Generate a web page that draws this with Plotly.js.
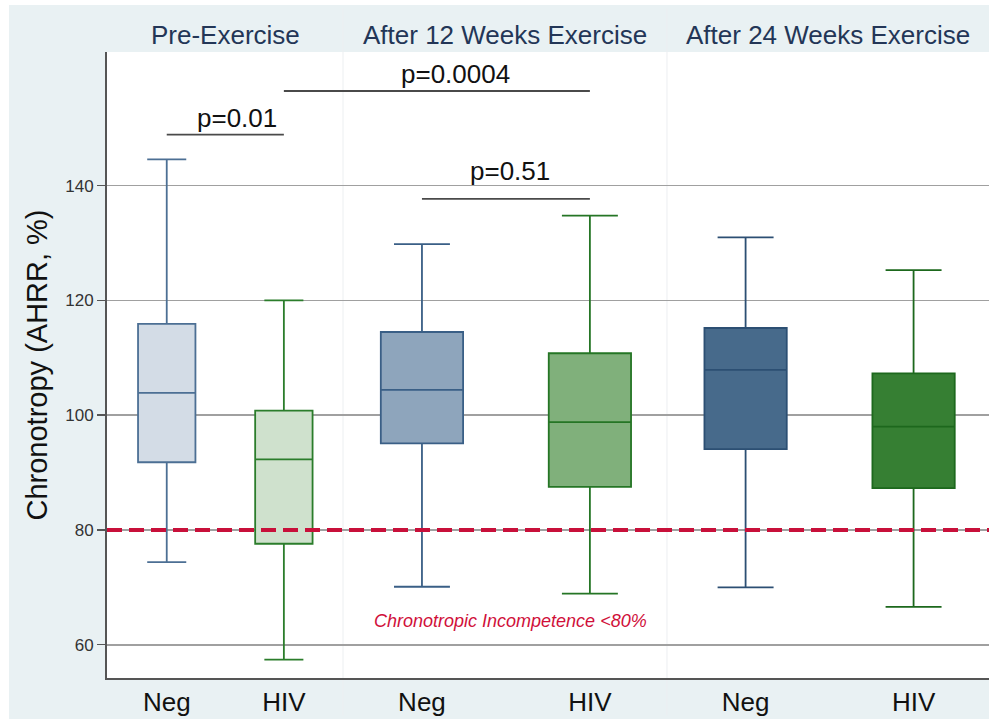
<!DOCTYPE html>
<html>
<head>
<meta charset="utf-8">
<script src="https://cdn.plot.ly/plotly-3.0.1.min.js"></script>
<style>html,body{margin:0;padding:0;background:#fff;}#chart{width:989px;height:719px;}</style>
</head>
<body>
<div id="chart"></div>
<script>
// ---- data ----
const groups = ["Neg", "HIV"];
const panelTitles = ["Pre-Exercise", "After 12 Weeks Exercise", "After 24 Weeks Exercise"];

const preLower  = [74.4, 57.4];
const preQ1     = [91.8, 77.6];
const preMedian = [103.9, 92.3];
const preQ3     = [115.9, 100.8];
const preUpper  = [144.6, 120.0];

const wk12Lower  = [70.1, 68.9];
const wk12Q1     = [95.1, 87.5];
const wk12Median = [104.4, 98.8];
const wk12Q3     = [114.5, 110.8];
const wk12Upper  = [129.8, 134.8];

const wk24Lower  = [70.0, 66.6];
const wk24Q1     = [94.1, 87.3];
const wk24Median = [107.9, 98.0];
const wk24Q3     = [115.2, 107.3];
const wk24Upper  = [131.0, 125.3];

const yTicks = [60, 80, 100, 120, 140];
const threshold = 80;
const thresholdLabel = "Chronotropic Incompetence <80%";

const pLabels = ["p=0.01", "p=0.0004", "p=0.51"];
// bracket endpoints: [panel index, group index]
const pFrom = [[0, 0], [0, 1], [1, 0]];
const pTo   = [[0, 1], [1, 1], [1, 1]];
const pLevel = [148.9, 156.5, 137.7];

// ---- styling / layout ----
const fills = [["#d3dce6", "#cfe1cd"], ["#8ea5bc", "#80b07b"], ["#476a8b", "#367f33"]];
const lines = [["#4c6f94", "#2b7d2b"], ["#3a5f86", "#257525"], ["#2c4f73", "#1d681d"]];
const domains = [[0, 0.2676], [0.2676, 0.6349], [0.6349, 1]];
const ranges = [[-0.51, 1.505], [-0.47, 1.459], [-0.468, 1.449]];
const axNames = ["x", "x2", "x3"];
const FONT = "Liberation Sans, Arial, sans-serif";

const panels = [
  [preLower, preQ1, preMedian, preQ3, preUpper],
  [wk12Lower, wk12Q1, wk12Median, wk12Q3, wk12Upper],
  [wk24Lower, wk24Q1, wk24Median, wk24Q3, wk24Upper]
];

const traces = [];
panels.forEach((p, pi) => {
  groups.forEach((g, gi) => {
    traces.push({
      type: "box",
      x: [g],
      lowerfence: [p[0][gi]],
      q1: [p[1][gi]],
      median: [p[2][gi]],
      q3: [p[3][gi]],
      upperfence: [p[4][gi]],
      xaxis: axNames[pi],
      yaxis: "y",
      width: 0.49,
      whiskerwidth: 0.68,
      fillcolor: fills[pi][gi],
      line: {color: lines[pi][gi], width: 1.8},
      hoverinfo: "skip",
      showlegend: false
    });
  });
});

function toPaper(pi, gi) {
  const d = domains[pi], r = ranges[pi];
  return d[0] + (gi - r[0]) / (r[1] - r[0]) * (d[1] - d[0]);
}

const shapes = [];
const annotations = [];

// panel separators
[domains[0][1], domains[1][1]].forEach(xv => {
  shapes.push({type: "line", xref: "paper", yref: "paper", x0: xv, x1: xv, y0: -0.06, y1: 1.07,
    line: {color: "#eceff1", width: 1}, layer: "below"});
});

// white outer strips
shapes.push({type: "rect", xref: "paper", yref: "paper", x0: -0.2, x1: -0.1111, y0: -0.2, y1: 1.2,
  fillcolor: "#ffffff", line: {width: 0}, layer: "below"});
shapes.push({type: "rect", xref: "paper", yref: "paper", x0: -0.2, x1: 1.1, y0: 1.075, y1: 1.2,
  fillcolor: "#ffffff", line: {width: 0}, layer: "below"});

// threshold line
shapes.push({type: "line", xref: "paper", yref: "y", x0: 0, x1: 1, y0: threshold, y1: threshold,
  line: {color: "#c8103a", width: 4, dash: "15px,7px"}, layer: "above"});

// p-value brackets
const pShift = [12, 19, 4];
pLabels.forEach((lab, i) => {
  const xa = toPaper(pFrom[i][0], pFrom[i][1]);
  const xb = toPaper(pTo[i][0], pTo[i][1]);
  shapes.push({type: "line", xref: "paper", yref: "y", x0: xa, x1: xb, y0: pLevel[i], y1: pLevel[i],
    line: {color: "#4a4a4a", width: 1.8}});
  annotations.push({text: lab, xref: "paper", yref: "y", x: (xa + xb) / 2, y: pLevel[i],
    xanchor: "center", yanchor: "bottom", xshift: pShift[i], yshift: i === 2 ? 11 : 0, showarrow: false,
    font: {family: FONT, size: 26, color: "#111"}});
});

// panel headers
panelTitles.forEach((t, i) => {
  annotations.push({text: t, xref: axNames[i] + " domain", yref: "paper", x: 0.5, y: 1,
    xanchor: "center", yanchor: "bottom", yshift: 0, showarrow: false,
    font: {family: FONT, size: 26, color: "#233657"}});
});

// threshold label
annotations.push({text: "<i>" + thresholdLabel + "</i>", xref: "x2", yref: "y", x: 0.53, y: 64.1,
  xanchor: "center", yanchor: "middle", showarrow: false,
  font: {family: FONT, size: 18, color: "#d0103a"}});

const layout = {
  width: 989, height: 719,
  margin: {l: 107, r: 0, t: 52, b: 41},
  paper_bgcolor: "#e9f1f3",
  plot_bgcolor: "#ffffff",
  showlegend: false,
  boxmode: "overlay",
  yaxis: {
    range: [54.2, 163.3], tickvals: yTicks, ticktext: yTicks.map(String),
    showgrid: true, gridcolor: "#a0a0a0", gridwidth: 1.6, zeroline: false,
    showline: true, linecolor: "#555", linewidth: 2,
    ticks: "outside", ticklen: 8, tickwidth: 1.5, tickcolor: "#555",
    tickfont: {family: FONT, size: 17, color: "#333"},
    title: {text: "Chronotropy (AHRR, %)", font: {family: FONT, size: 29, color: "#111"}, standoff: 9},
    anchor: "x", fixedrange: true
  },
  annotations: annotations,
  shapes: shapes,
  font: {family: FONT}
};
axNames.forEach((a, i) => {
  const key = i === 0 ? "xaxis" : "xaxis" + (i + 1);
  layout[key] = {
    domain: domains[i], range: ranges[i], type: "category",
    categoryorder: "array", categoryarray: groups,
    showgrid: false, zeroline: false, showline: true, linecolor: "#555", linewidth: 2,
    ticks: "", tickfont: {family: FONT, size: 26, color: "#111"},
    anchor: "y", fixedrange: true
  };
});

Plotly.newPlot("chart", traces, layout, {staticPlot: true});
</script>
</body>
</html>
